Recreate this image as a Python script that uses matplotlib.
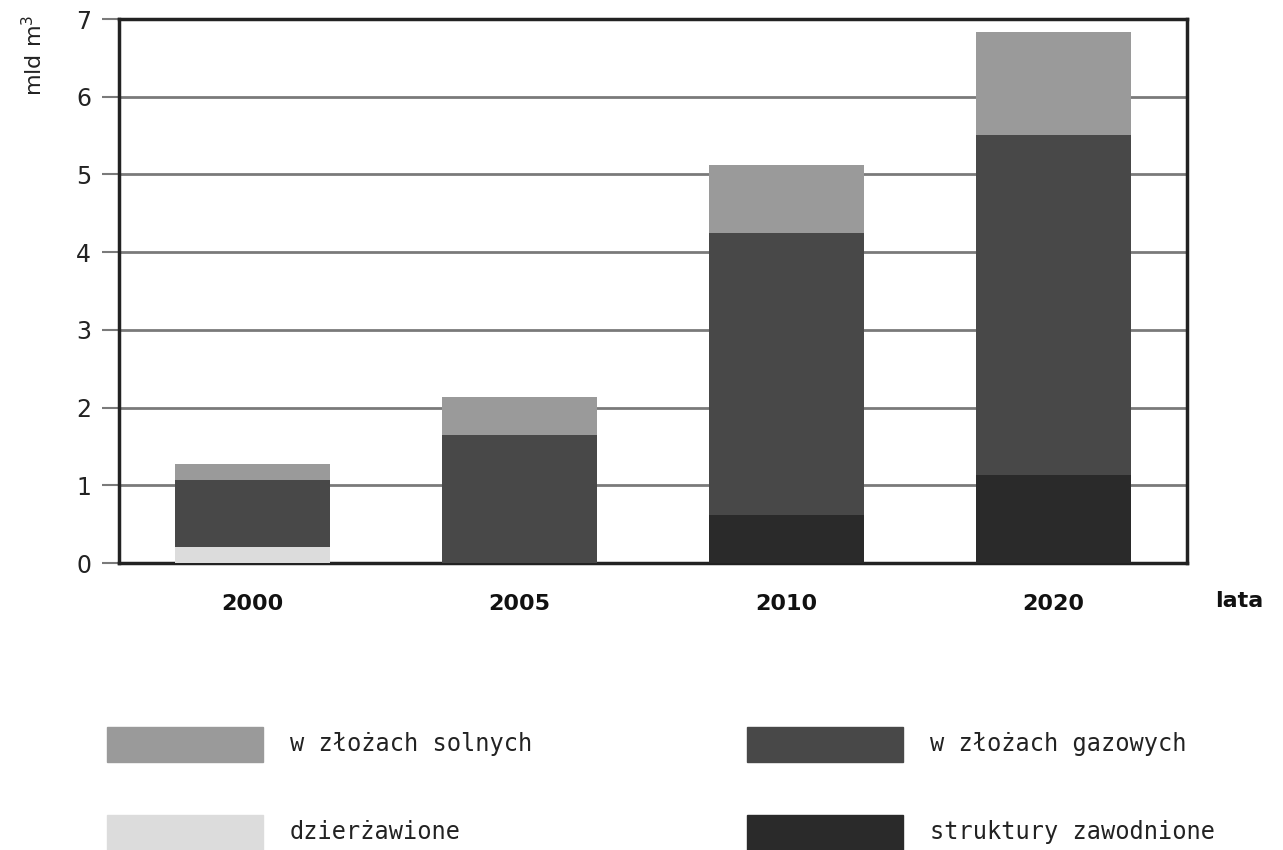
import matplotlib
matplotlib.use("Agg")
import matplotlib.pyplot as plt
from matplotlib.patches import Rectangle
import numpy as np

years = ["2000", "2005", "2010", "2020"]
zawodnione = [0.0, 0.0, 0.62, 1.13]
dzierzawione = [0.2, 0.0, 0.0, 0.0]
gazowe = [0.87, 1.65, 3.63, 4.38]
solne = [0.2, 0.49, 0.87, 1.32]
yticks = [0, 1, 2, 3, 4, 5, 6, 7]

c_solne = "#9a9a9a"
c_gaz = "#484848"
c_zaw = "#2a2a2a"
c_dzier = "#dcdcdc"

fig = plt.figure(figsize=(12.83, 8.5), dpi=100)
ax = fig.add_axes([0.0928, 0.3376, 0.8322, 0.64])

x = np.arange(len(years))
w = 0.58
b = np.zeros(len(years))
ax.bar(x, zawodnione, w, bottom=b, color=c_zaw, zorder=3)
b += zawodnione
ax.bar(x, dzierzawione, w, bottom=b, color=c_dzier, zorder=3)
b += dzierzawione
ax.bar(x, gazowe, w, bottom=b, color=c_gaz, zorder=3)
b += gazowe
ax.bar(x, solne, w, bottom=b, color=c_solne, zorder=3)

ax.set_xlim(-0.5, 3.5)
ax.set_ylim(0, 7)
ax.set_yticks(yticks)
ax.set_yticklabels([str(t) for t in yticks], fontsize=17, color="#222222")
ax.yaxis.grid(True, color="#7a7a7a", lw=2, zorder=1)
ax.tick_params(axis="y", length=12, width=1.5, color="#7a7a7a", pad=8)
ax.set_xticks(x)
ax.set_xticklabels(years, fontsize=16, fontweight="bold", color="#111111")
ax.tick_params(axis="x", length=0, pad=22)
for s in ax.spines.values():
    s.set_linewidth(2.5)
    s.set_color("#222222")

fig.text(0.966, 0.293, "lata", fontsize=16, fontweight="bold", ha="center", va="center", color="#111111")
fig.text(0.026, 0.935, "mld m$^3$", fontsize=16, rotation=90, ha="center", va="center", color="#222222")

# legend
items = [
    (107, 727, c_solne, "w złożach solnych"),
    (747, 727, c_gaz, "w złożach gazowych"),
    (107, 815, c_dzier, "dzierżawione"),
    (747, 815, c_zaw, "struktury zawodnione"),
]
W, H = 1283, 850
for px, py, col, lab in items:
    fig.patches.append(Rectangle((px / W, 1 - (py + 35) / H), 156 / W, 35 / H,
                                 transform=fig.transFigure, color=col))
    fig.text((px + 183) / W, 1 - (py + 17) / H, lab, fontsize=17,
             family="DejaVu Sans Mono", ha="left", va="center", color="#222222")

fig.savefig("out.png", dpi=100)
